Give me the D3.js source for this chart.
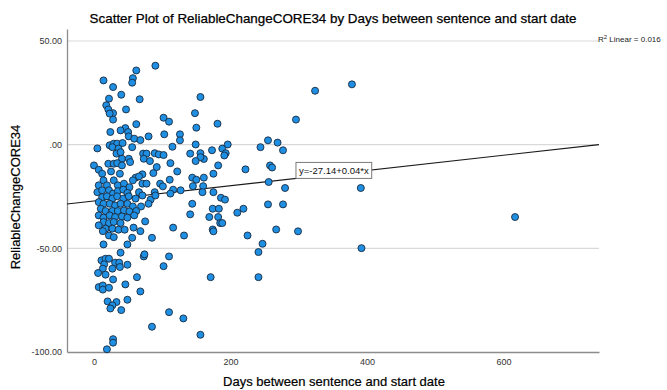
<!DOCTYPE html>
<html>
<head>
<meta charset="utf-8">
<script src="https://cdn.jsdelivr.net/npm/d3@7"></script>
<style>
  body { margin: 0; background: #fff; }
  svg { display: block; }
  text { font-family: "Liberation Sans", Arial, sans-serif; }
</style>
</head>
<body>
<svg id="chart" width="667" height="390"></svg>
<script>
// Days between sentence and start date, one entry per case
const days = [
  14,28,62,57,56,90,40,22,67,18,21,28,23,28,47,102,110,62,148,150,156,24,46,39,50,51,59,68,80,103,126,126,115,149,5,23,29,34,42,56,
  14,49,39,73,74,110,102,11,17,22,15,31,37,49,38,27,13,6,17,28,63,46,7,13,13,22,68,49,20,33,27,24,40,110,131,85,28,28,19,
  27,36,33,39,72,77,89,95,102,141,41,51,73,82,0,21,29,34,41,53,112,7,12,25,38,92,87,122,61,71,66,57,71,77,97,101,111,144,150,
  7,14,19,29,35,44,52,5,12,22,28,35,43,49,66,89,116,127,12,19,27,34,43,51,61,71,83,90,112,144,7,14,23,31,39,49,57,69,80,
  10,17,27,35,44,52,62,7,14,23,31,41,49,59,75,14,22,29,39,141,7,17,27,13,36,45,58,68,116,22,29,56,85,132,
  181,324,378,296,156,161,156,149,173,188,196,193,191,182,175,222,244,255,269,277,258,261,256,280,391,161,145,160,159,175,186,192,
  255,277,174,183,219,210,169,182,185,188,174,175,267,299,225,247,241,392,171,241,156,
  617
];

// ReliableChangeCORE34 score for the same cases
const values = [
  31.0,27.8,35.8,32.1,29.9,38.1,24.1,22.2,21.9,19.0,17.0,15.2,15.0,12.1,17.0,13.0,11.1,9.9,15.2,8.2,23.0,6.1,8.0,6.9,6.1,4.0,2.9,2.2,4.0,5.0,5.0,2.1,-1.0,0.1,-1.8,-0.3,0.5,0.5,0.8,-1.2,
  -48.1,-48.1,-52.1,-53.9,-52.9,-53.9,-58.6,-55.8,-55.0,-55.0,-57.7,-56.9,-56.9,-57.9,-59.0,-59.8,-59.8,-61.9,-62.7,-65.0,-63.9,-67.4,-68.7,-67.9,-69.9,-69.0,-70.8,-74.8,-75.6,-75.9,-77.5,-79.0,-79.8,-80.8,-83.8,-87.8,-93.8,-95.5,-98.7,
  -1.2,-1.9,-4.3,-3.6,-4.3,-4.3,-4.1,-4.7,-5.0,-4.3,-6.8,-6.8,-6.8,-7.9,-10.0,-9.2,-9.2,-8.9,-10.0,-8.4,-8.9,-12.1,-14.0,-12.9,-14.0,-10.8,-13.7,-12.9,-15.9,-14.3,-15.3,-17.2,-18.8,-18.8,-18.8,-20.1,-16.9,-15.9,-16.9,
  -19.6,-17.2,-19.6,-17.2,-19.6,-18.8,-20.5,-22.9,-22.0,-22.0,-23.6,-22.4,-21.7,-23.3,-22.9,-22.9,-21.7,-22.0,-25.3,-24.9,-26.0,-24.9,-26.0,-24.9,-26.0,-24.5,-26.5,-24.5,-23.6,-28.5,-27.7,-28.5,-28.5,-29.3,-28.5,-28.5,-29.8,-29.8,-28.5,
  -30.9,-32.0,-32.0,-32.0,-31.7,-32.2,-32.0,-34.1,-35.2,-34.1,-34.9,-34.6,-35.2,-34.1,-37.0,-37.3,-37.8,-37.3,-37.8,-33.6,-38.9,-40.5,-40.5,-41.7,-41.0,-41.0,-40.0,-41.7,-40.0,-43.8,-44.6,-44.9,-44.9,-43.8,
  10.1,26.0,29.1,12.1,-4.1,-6.9,-6.0,-7.9,-2.7,-1.9,0.1,-4.1,-5.2,-10.0,-14.0,-11.9,-1.2,2.1,1.0,-2.7,-10.0,-11.0,-18.0,-20.9,-20.9,-15.9,-20.0,-20.0,-22.9,-22.9,-25.6,-26.5,
  -28.8,-28.8,-30.9,-30.9,-30.9,-32.8,-34.9,-34.9,-37.8,-37.8,-40.9,-41.8,-40.9,-41.8,-43.8,-47.8,-51.8,-49.9,-63.9,-63.9,-91.7,
  -34.9
];

const xTicks = [0, 200, 400, 600];
const yTicks = [50, 0, -50, -100];
const yTickLabels = ["50.00", ".00", "-50.00", "-100.00"];

// Linear fit of the scores on days, and its R squared
const fitIntercept = -27.14;
const fitSlope = 0.0367;
const rSquared = 0.016;
const labelDay = 296;

const svg = d3.select("#chart");

const x = d3.scaleLinear().domain([-39.5, 740]).range([67, 599]);
const y = d3.scaleLinear().domain([-100, 55.8]).range([352, 29]);
const [x0, x1] = x.range();
const [yBottom, yTop] = y.range();

// Title
svg.append("text")
  .attr("x", 333).attr("y", 23)
  .attr("text-anchor", "middle")
  .attr("font-size", 13.4)
  .attr("fill", "#000")
  .attr("stroke", "#000").attr("stroke-width", 0.25)
  .text("Scatter Plot of ReliableChangeCORE34 by Days between sentence and start date");

// Horizontal reference lines
svg.append("g")
  .selectAll("line")
  .data(yTicks.filter(v => v !== y.domain()[0]))
  .join("line")
  .attr("x1", x0).attr("x2", x1)
  .attr("y1", d => y(d)).attr("y2", d => y(d))
  .attr("stroke", "#d9d9d9")
  .attr("stroke-width", 1.2);

// Axes
const xAxis = svg.append("g")
  .attr("transform", `translate(0,${yBottom})`)
  .call(d3.axisBottom(x).tickValues(xTicks).tickSize(0).tickPadding(7).tickFormat(d3.format("d")));
const yAxis = svg.append("g")
  .attr("transform", `translate(${x0},0)`)
  .call(d3.axisLeft(y).tickValues(yTicks).tickSize(0).tickPadding(5)
    .tickFormat(d => yTickLabels[yTicks.indexOf(d)]));

[xAxis, yAxis].forEach(g => {
  g.select(".domain").attr("stroke", "#8c8c8c").attr("stroke-width", 1.3);
  g.selectAll("text").attr("font-size", 9).attr("fill", "#333")
    .attr("font-family", "\"Liberation Sans\", Arial, sans-serif");
});

// Axis titles
svg.append("text")
  .attr("x", 334).attr("y", 386)
  .attr("text-anchor", "middle")
  .attr("font-size", 13)
  .attr("fill", "#000")
  .attr("stroke", "#000").attr("stroke-width", 0.2)
  .text("Days between sentence and start date");

svg.append("text")
  .attr("transform", "translate(20,197) rotate(-90)")
  .attr("text-anchor", "middle")
  .attr("font-size", 13)
  .attr("fill", "#000")
  .attr("stroke", "#000").attr("stroke-width", 0.2)
  .text("ReliableChangeCORE34");

// Fit line across the full x range
const fit = d => fitIntercept + fitSlope * d;
svg.append("line")
  .attr("x1", x0).attr("y1", y(fit(x.domain()[0])))
  .attr("x2", x1).attr("y2", y(fit(x.domain()[1])))
  .attr("stroke", "#1a1a1a")
  .attr("stroke-width", 1.1);

// Cases
svg.append("g")
  .selectAll("circle")
  .data(days.map((d, i) => ({ d, v: values[i] })))
  .join("circle")
  .attr("cx", p => x(p.d))
  .attr("cy", p => y(p.v))
  .attr("r", 3.5)
  .attr("fill", "#1f8fe3")
  .attr("stroke", "#182a3e")
  .attr("stroke-width", 0.9);

// Equation label sitting on the fit line
const eqText = `y=${fitIntercept.toFixed(2)}+${fitSlope.toFixed(2)}*x`;
const bx = x(labelDay), by = y(fit(labelDay));
const eqG = svg.append("g");
const eqRect = eqG.append("rect");
const eq = eqG.append("text")
  .attr("x", bx + 3).attr("y", by - 4.5)
  .attr("font-size", 9.5)
  .attr("fill", "#111")
  .text(eqText);
const tw = eq.node().getComputedTextLength();
eqRect.attr("x", bx).attr("y", by - 16)
  .attr("width", tw + 6).attr("height", 16)
  .attr("fill", "#fff")
  .attr("stroke", "#7a7a7a")
  .attr("stroke-width", 1);

// R squared note
const r2 = svg.append("text")
  .attr("x", 598).attr("y", 42)
  .attr("font-size", 8)
  .attr("fill", "#222");
r2.append("tspan").text("R");
r2.append("tspan").attr("font-size", 6).attr("dy", -3.5).text("2");
r2.append("tspan").attr("dy", 3.5).text(` Linear = ${rSquared.toFixed(3)}`);
</script>
</body>
</html>
